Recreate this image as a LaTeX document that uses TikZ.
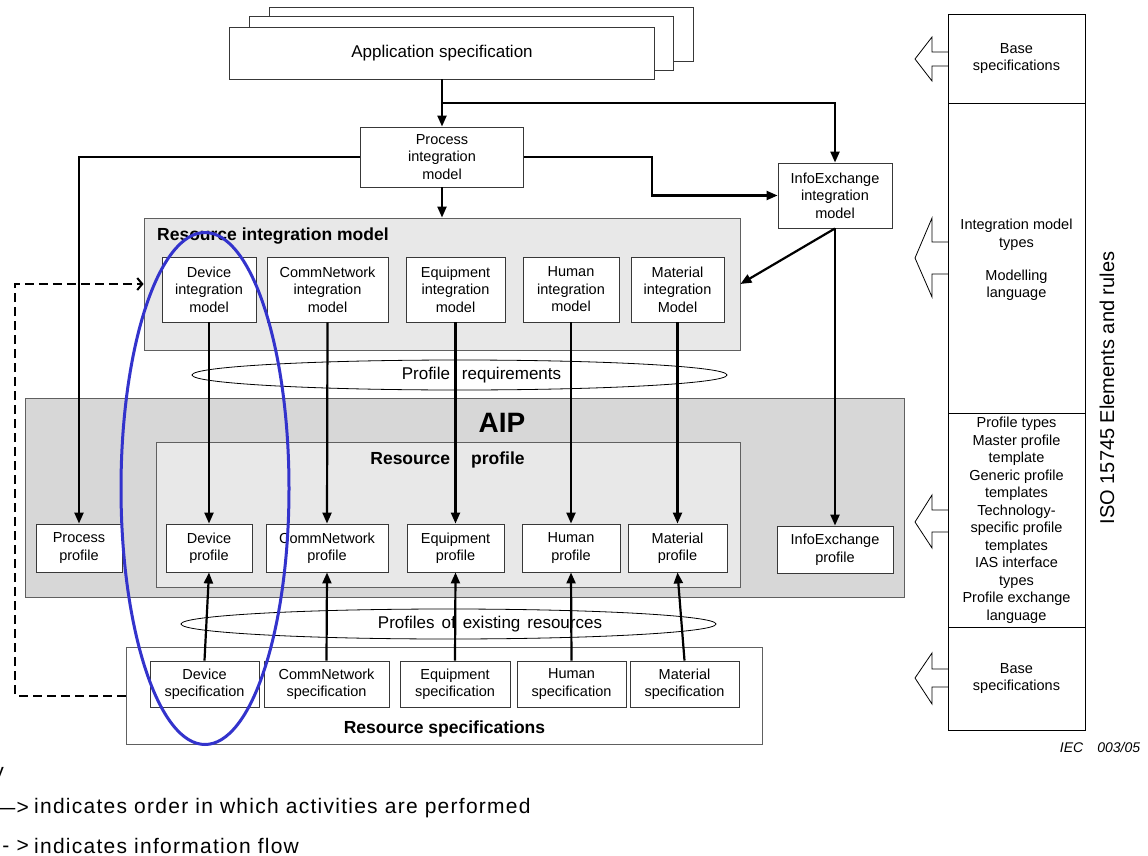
\documentclass[tikz,border=0pt]{standalone}
\usepackage{fontspec}
\setmainfont{Liberation Sans}
\usetikzlibrary{arrows.meta,calc,shapes.geometric}

\definecolor{rimfill}{HTML}{E8E8E8}
\definecolor{aipfill}{HTML}{D7D7D7}
\definecolor{ringblue}{HTML}{3333CC}
\definecolor{boxline}{HTML}{383838}

\newcommand\lblfont{\fontsize{14.5}{17.5}\selectfont}
\newcommand\midfont{\fontsize{17}{20}\selectfont}
\newcommand\ttlfont{\fontsize{17.5}{21}\selectfont\bfseries}
\newcommand\keyfont{\fontsize{21}{25}\selectfont\addfontfeature{LetterSpace=6}}

\begin{document}
\begin{tikzpicture}[x=1pt,y=-1pt,
  box/.style={draw=boxline, line width=0.9pt, fill=white, inner sep=0pt, align=center, font=\lblfont},
  panel/.style={draw=boxline!80, line width=0.9pt, inner sep=0pt},
  colbox/.style={draw=black, line width=0.8pt, inner sep=0pt, align=center, font=\lblfont, minimum width=137pt},
  lbl/.style={inner sep=0pt, align=center, font=\lblfont},
  ttl/.style={inner sep=0pt, font=\ttlfont},
  wh/.style 2 args={minimum width=#1, minimum height=#2},
  conn/.style={line width=2.2pt, -{Triangle[length=11pt,width=9pt]}},
  flowline/.style={line width=2.2pt},
  infoflow/.style={line width=2pt, dash pattern=on 9pt off 5pt, -{Straight Barb[length=5pt,width=12pt,line width=2pt]}},
  lens/.style={ellipse, draw=black, line width=0.8pt, inner sep=0pt},
  blockarr/.style={draw=black, line width=0.8pt, line join=miter}
]
\useasboundingbox (0,0) rectangle (1148,856);

% ---- shaded panels ----
\node[panel, fill=aipfill, wh={879pt}{199pt}] (aip) at (464.5,497.5) {};
\node[panel, fill=rimfill, wh={596pt}{132pt}] (rim) at (442,284) {};
\node[panel, fill=rimfill, wh={584pt}{145pt}] (rprof) at (448,514.5) {};
\node[panel, fill=white, wh={636pt}{97pt}] (rspec) at (444,695.5) {};

\node[ttl, anchor=west] (rimtitle) at (157,236) {Resource integration model};
\node[inner sep=0pt, font=\fontsize{28}{32}\selectfont\bfseries] (aiptitle) at (502,423) {AIP};
\node[ttl] (rproftitle) at (447.5,460) {Resource\hspace{21pt}profile};
\node[ttl] (rspectitle) at (444.5,729) {Resource specifications};

% ---- lens shaped groupings ----
\node[lens, wh={535pt}{30pt}] (preq) at (459.5,375) {};
\node[inner sep=0pt, font=\midfont] (preqlbl) at (481.5,375) {Profile\hspace{12pt}requirements};
\node[lens, wh={535pt}{30pt}] (pexist) at (448.5,624) {};
\node[inner sep=0pt, font=\midfont] (pexistlbl) at (490,624) {Profiles\hspace{7pt}of\hspace{7pt}existing\hspace{7pt}resources};

% ---- application specification stack ----
\node[box, wh={424pt}{54pt}] (app3) at (481,34) {};
\node[box, wh={424pt}{54pt}] (app2) at (461,43) {};
\node[box, font=\midfont, wh={425pt}{52pt}] (app) at (442,53) {Application specification};

% ---- integration models ----
\node[box, wh={163pt}{60pt}] (pim) at (442,157) {Process\\integration\\model};
\node[box, wh={114pt}{65pt}] (ixim) at (835,195.5) {InfoExchange\\integration\\model};

\node[box, wh={94pt}{65pt}] (dim) at (209,289.5) {Device\\integration\\model};
\node[box, wh={121pt}{65pt}] (cim) at (327.5,289.5) {CommNetwork\\integration\\model};
\node[box, wh={99pt}{65pt}] (eim) at (455.5,289.5) {Equipment\\integration\\model};
\node[box, wh={96pt}{65pt}] (him) at (571,289.5) {Human\\integration\\model};
\node[box, wh={93pt}{65pt}] (mim) at (677.5,289.5) {Material\\integration\\Model};

% ---- profiles ----
\node[box, wh={86pt}{48pt}] (pp) at (79,548) {Process\\profile};
\node[box, wh={86pt}{48pt}] (dp) at (209,548) {Device\\profile};
\node[box, wh={122pt}{48pt}] (cp) at (327,548) {CommNetwork\\profile};
\node[box, wh={97pt}{48pt}] (ep) at (455.5,548) {Equipment\\profile};
\node[box, wh={98pt}{48pt}] (hp) at (571,548) {Human\\profile};
\node[box, wh={99pt}{48pt}] (mp) at (677.5,548) {Material\\profile};
\node[box, wh={116pt}{47pt}] (ip) at (835,549.5) {InfoExchange\\profile};

% ---- resource specifications ----
\node[box, wh={109pt}{46pt}] (ds) at (204.5,684) {Device\\specification};
\node[box, wh={125pt}{46pt}] (cs) at (326.5,684) {CommNetwork\\specification};
\node[box, wh={110pt}{46pt}] (es) at (455,684) {Equipment\\specification};
\node[box, wh={109pt}{46pt}] (hs) at (571.5,684) {Human\\specification};
\node[box, wh={109pt}{46pt}] (ms) at (684.5,684) {Material\\specification};

% ---- order of activities ----
\coordinate (split) at (442,103);
\coordinate (jog) at (652,0);
\draw[conn] (app.south) -- (pim.north);
\draw[conn] (split) -| (ixim.north);
\draw[conn] (pim.south) -- (rim.north);
\draw[conn] (pim.west) -| (pp.north);
\draw[conn] (pim.east) -| (jog |- ixim.west) -- (ixim.west);
\draw[conn] (ixim.south) -- (rim.east);
\draw[conn] (ixim.south) -- (ip.north);

\foreach \m/\p in {dim/dp, cim/cp, eim/ep, him/hp, mim/mp}
  \draw[conn] (\m.south) -- (\p.north);
\foreach \s/\p in {ds/dp, cs/cp, es/ep, hs/hp, ms/mp}
  \draw[conn] (\s.north) -- (\p.south);

% ---- information flow ----
\coordinate (dl) at (15,0);
\draw[infoflow] (rspec.west) -| (dl |- rim.west) -- (rim.west);

% ---- device column highlight ----
\node[ellipse, draw=ringblue, line width=3pt, inner sep=0pt, wh={168pt}{512pt}] (focus) at (205,488.5) {};

% ---- ISO 15745 column ----
\node[colbox, minimum height=89pt] (base1) at (1016.5,58.5) {Base\\specifications};
\node[colbox, minimum height=310pt] (imt) at (1016.5,258) {};
\node[lbl] (imtypes) at (1016.5,235) {Integration model\\types};
\node[lbl] (mlang) at (1016.5,285) {Modelling\\language};
\node[colbox, minimum height=214pt] (ptypes) at (1016.5,520) {Profile types\\Master profile\\template\\Generic profile\\templates\\Technology-\\specific profile\\templates\\IAS interface\\types\\Profile exchange\\language};
\node[colbox, minimum height=103pt] (base2) at (1016.5,678.5) {Base\\specifications};

\draw[blockarr] (948,52) -- (932,52) -- (932,37) -- (915,59) -- (932,81) -- (932,66) -- (948,66);
\draw[blockarr] (948,242) -- (932,242) -- (932,218) -- (915,258) -- (932,297) -- (932,274) -- (948,274);
\draw[blockarr] (948,510) -- (932,510) -- (932,495) -- (915,522) -- (932,548) -- (932,532) -- (948,532);
\draw[blockarr] (948,669) -- (932,669) -- (932,653) -- (915,678) -- (932,704) -- (932,687) -- (948,687);

\node[rotate=90, inner sep=0pt, font=\fontsize{20}{24}\selectfont] (isolbl) at (1107,388) {ISO 15745 Elements and rules};

\node[inner sep=0pt, font=\fontsize{14}{16}\selectfont\itshape] (iec) at (1100,747) {IEC\hspace{14pt}003/05};

% ---- key ----
\node[inner sep=0pt, anchor=base east, font=\keyfont] (keyttl) at (4,778) {Key};
\node[inner sep=0pt, anchor=east, font=\keyfont] (keya) at (29,808) {—>};
\node[inner sep=0pt, anchor=west, font=\keyfont] (keyatxt) at (34,808) {indicates order in which activities are performed};
\node[inner sep=0pt, anchor=east, font=\keyfont] (keyb) at (29,846) {- >};
\node[inner sep=0pt, anchor=west, font=\keyfont] (keybtxt) at (34,846) {indicates information flow};
\end{tikzpicture}
\end{document}
